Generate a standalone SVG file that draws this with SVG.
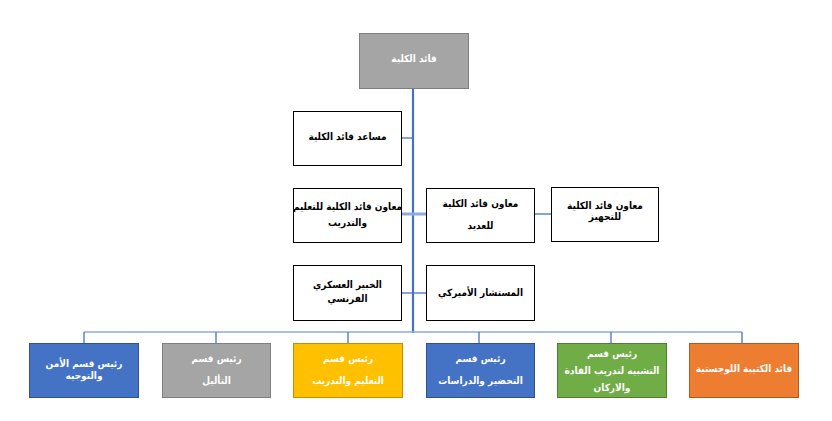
<svg xmlns="http://www.w3.org/2000/svg" width="832" height="421" viewBox="0 0 832 421">
<style>
text{font-family:"DejaVu Sans Condensed","DejaVu Sans","Liberation Sans",sans-serif;font-stretch:condensed;font-weight:bold;font-size:10px;text-anchor:middle;direction:rtl}
.w{fill:#000}
.l{fill:#fff}
.bw{fill:#fff;stroke:#000;stroke-width:1}
.conn line{stroke:#4472c4;stroke-width:1.3}
</style>
<rect width="832" height="421" fill="#fff"/>
<g id="connectors" class="conn">
<line x1="413" y1="89" x2="413" y2="333" style="stroke-width:2.2"/>
<line x1="402" y1="138" x2="413" y2="138"/>
<line x1="402" y1="214" x2="426" y2="214" style="stroke:#8eaadb;stroke-width:3"/>
<line x1="534" y1="214" x2="551" y2="214"/>
<line x1="402" y1="293" x2="426" y2="293"/>
<line x1="84" y1="332" x2="742" y2="332" style="stroke:#8eaadb;stroke-width:1.5"/>
<line x1="84" y1="332" x2="84" y2="343"/>
<line x1="216" y1="332" x2="216" y2="343"/>
<line x1="348" y1="332" x2="348" y2="343"/>
<line x1="479" y1="332" x2="479" y2="343"/>
<line x1="611" y1="332" x2="611" y2="343"/>
<line x1="742" y1="332" x2="742" y2="343"/>
</g>
<g id="n-dean">
<rect x="359.5" y="33.5" width="109" height="55" fill="#a5a5a5" stroke="#7f7f7f"/>
<text x="414" y="62" class="l">قائد الكلية</text>
</g>
<g id="n-assistant">
<rect x="293.5" y="111.5" width="108" height="54" class="bw"/>
<text x="347.5" y="140" class="w">مساعد قائد الكلية</text>
</g>
<g id="n-deputy-edu">
<rect x="293.5" y="188.5" width="108" height="54" class="bw"/>
<text x="347.5" y="210" class="w">معاون قائد الكلية للتعليم</text>
<text x="347.5" y="226" class="w">والتدريب</text>
</g>
<g id="n-deputy-num">
<rect x="426.5" y="188.5" width="108" height="54" class="bw"/>
<text x="480.5" y="207" class="w">معاون قائد الكلية</text>
<text x="480.5" y="229" class="w">للعديد</text>
</g>
<g id="n-deputy-equip">
<rect x="551.5" y="187.5" width="107" height="54" class="bw"/>
<text x="605" y="209" class="w">معاون قائد الكلية</text>
<text x="605" y="220" class="w">للتجهيز</text>
</g>
<g id="n-french">
<rect x="293.5" y="265.5" width="108" height="55" class="bw"/>
<text x="347.5" y="288" class="w">الخبير العسكري</text>
<text x="347.5" y="302" class="w">الفرنسي</text>
</g>
<g id="n-american">
<rect x="426.5" y="265.5" width="108" height="55" class="bw"/>
<text x="480.5" y="296" class="w">المستشار الأميركي</text>
</g>
<g id="n-security">
<rect x="29.5" y="343.5" width="109" height="54" fill="#4472c4" stroke="#2f528f"/>
<text x="84" y="367" class="l">رئيس قسم الأمن</text>
<text x="84" y="379" class="l">والتوجيه</text>
</g>
<g id="n-qualify">
<rect x="162.5" y="343.5" width="108" height="54" fill="#a5a5a5" stroke="#7f7f7f"/>
<text x="216.5" y="362" class="l">رئيس قسم</text>
<text x="216.5" y="384" class="l">التأليل</text>
</g>
<g id="n-education">
<rect x="293.5" y="343.5" width="109" height="54" fill="#ffc000" stroke="#bf9000"/>
<text x="348" y="362" class="l">رئيس قسم</text>
<text x="348" y="384" class="l">التعليم والتدريب</text>
</g>
<g id="n-studies">
<rect x="426.5" y="343.5" width="108" height="54" fill="#4472c4" stroke="#2f528f"/>
<text x="480.5" y="362" class="l">رئيس قسم</text>
<text x="480.5" y="384" class="l">التحضير والدراسات</text>
</g>
<g id="n-simulation">
<rect x="557.5" y="343.5" width="109" height="54" fill="#70ad47" stroke="#507e32"/>
<text x="612" y="357" class="l">رئيس قسم</text>
<text x="612" y="374" class="l">التشبيه لتدريب القادة</text>
<text x="612" y="391" class="l">والاركان</text>
</g>
<g id="n-logistics">
<rect x="689.5" y="343.5" width="109" height="54" fill="#ed7d31" stroke="#ae5a21"/>
<text x="744" y="372" class="l">قائد الكتيبة اللوجستية</text>
</g>
</svg>
